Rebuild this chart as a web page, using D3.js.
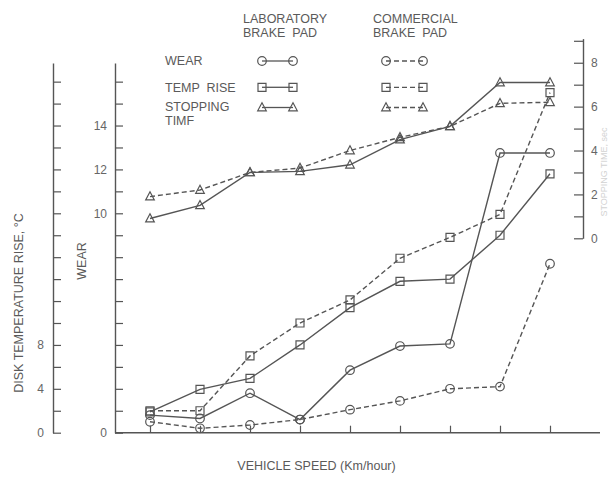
<!DOCTYPE html>
<html>
<head>
<meta charset="utf-8">
<script src="https://cdn.jsdelivr.net/npm/d3@7"></script>
<style>
  html, body { margin: 0; padding: 0; background: #fff; }
  svg { display: block; }
  text { font-family: "Liberation Sans", Arial, sans-serif; }
</style>
</head>
<body>
<script>
// Vehicle speed steps (unlabelled on the axis)
const speedSteps = [1, 2, 3, 4, 5, 6, 7, 8, 9];

// Wear
const wearLab = [0.8, 0.65, 1.8, 0.6, 2.85, 3.95, 4.05, 12.75, 12.75];
const wearCom = [0.5, 0.2, 0.35, 0.6, 1.05, 1.45, 2.0, 2.1, 7.7];

// Disk temperature rise, °C
const tempLab = [1.9, 3.95, 4.95, 8.0, 11.4, 13.8, 14.0, 18.0, 23.6];
const tempCom = [2.0, 2.0, 7.0, 10.0, 12.1, 15.9, 17.8, 19.9, 31.0];

// Stopping time
const stopLab = [0.9, 1.5, 3.0, 3.05, 3.35, 4.5, 5.1, 7.1, 7.1];
const stopCom = [1.9, 2.2, 3.0, 3.2, 4.0, 4.6, 5.1, 6.15, 6.2];

// Axis tick labels
const wearTickLabels = [0, 10, 12, 14];
const tempTickLabels = [0, 4, 8];
const stopTickLabels = [0, 2, 4, 6, 8];

const W = 608, H = 477;
const ink = "#555";
const textInk = "#5a5a5a";

const svg = d3.select("body").append("svg")
  .attr("width", W).attr("height", H);

const x = d3.scalePoint().domain(speedSteps).range([150, 550]);
const yWear = d3.scaleLinear().domain([0, 16.85]).range([432.7, 63]);
const yTemp = d3.scaleLinear().domain([0, 33.7]).range([432.7, 63]);
const yStop = d3.scaleLinear().domain([0, 9.1]).range([238.3, 38.6]);

function styleAxis(g, fontSize) {
  g.select(".domain").attr("stroke", ink).attr("stroke-width", 1.4);
  g.selectAll(".tick line").attr("stroke", ink).attr("stroke-width", 1.2);
  g.selectAll(".tick text").attr("fill", "#666")
    .style("font-size", fontSize + "px")
    .style("font-family", "'Liberation Sans', Arial, sans-serif");
}

// Disk temperature axis (far left)
const tempAxis = d3.axisLeft(yTemp)
  .tickValues(d3.range(0, 33, 2))
  .tickSizeInner(-8).tickSizeOuter(0).tickPadding(9)
  .tickFormat(d => tempTickLabels.includes(d) ? d : "");
svg.append("g").attr("transform", "translate(53,0)").call(tempAxis)
  .call(g => styleAxis(g, 12));

// Wear axis
const wearAxis = d3.axisLeft(yWear)
  .tickValues(d3.range(0, 17, 1))
  .tickSizeInner(-8).tickSizeOuter(0).tickPadding(8)
  .tickFormat(d => wearTickLabels.includes(d) ? d : "");
svg.append("g").attr("transform", "translate(115,0)").call(wearAxis)
  .call(g => styleAxis(g, 12));

// Stopping time axis (right)
const stopAxis = d3.axisRight(yStop)
  .tickValues(d3.range(0, 10, 1))
  .tickSizeInner(-9).tickSizeOuter(0).tickPadding(8)
  .tickFormat(d => stopTickLabels.includes(d) ? d : "");
svg.append("g").attr("transform", "translate(583,0)").call(stopAxis)
  .call(g => styleAxis(g, 12));

// Vehicle speed axis
const xAxis = d3.axisBottom(x).tickSizeInner(-7).tickSizeOuter(0).tickFormat("");
const xg = svg.append("g").attr("transform", "translate(0,432.7)").call(xAxis)
  .call(g => styleAxis(g, 12));
xg.select(".domain").attr("d", "M115,0H600");

// Axis titles
svg.append("text")
  .attr("transform", "translate(23,303) rotate(-90)")
  .attr("text-anchor", "middle").attr("fill", textInk)
  .style("font-size", "12.5px")
  .text("DISK TEMPERATURE RISE, °C");
svg.append("text")
  .attr("transform", "translate(86,261) rotate(-90)")
  .attr("text-anchor", "middle").attr("fill", textInk)
  .style("font-size", "12.5px")
  .text("WEAR");
svg.append("text")
  .attr("transform", "translate(607,172) rotate(-90)")
  .attr("text-anchor", "middle").attr("fill", "#d2d2d2")
  .style("font-size", "9px")
  .text("STOPPING TIME, sec");
svg.append("text")
  .attr("x", 316.5).attr("y", 470)
  .attr("text-anchor", "middle").attr("fill", textInk)
  .style("font-size", "12.5px")
  .text("VEHICLE SPEED (Km/hour)");

// Marker shapes
function drawMarker(g, shape, cx, cy) {
  const s = g.append(shape === "circle" ? "circle" : "path")
    .attr("fill", "none").attr("stroke", ink).attr("stroke-width", 1.2);
  if (shape === "circle") {
    s.attr("cx", cx).attr("cy", cy).attr("r", 4.3);
  } else if (shape === "square") {
    s.attr("d", `M${cx - 4},${cy - 4}h8v8h-8Z`);
  } else {
    s.attr("d", `M${cx},${cy - 4.8}L${cx + 4.3},${cy + 3.3}L${cx - 4.3},${cy + 3.3}Z`);
  }
}

const series = [
  { values: wearLab, y: yWear, shape: "circle", dashed: false },
  { values: wearCom, y: yWear, shape: "circle", dashed: true },
  { values: tempLab, y: yTemp, shape: "square", dashed: false },
  { values: tempCom, y: yTemp, shape: "square", dashed: true },
  { values: stopLab, y: yStop, shape: "triangle", dashed: false },
  { values: stopCom, y: yStop, shape: "triangle", dashed: true }
];

const lineGen = d3.line();
const plot = svg.append("g");
series.forEach(s => {
  const pts = speedSteps.map((sp, i) => [x(sp), s.y(s.values[i])]);
  plot.append("path")
    .attr("d", lineGen(pts))
    .attr("fill", "none").attr("stroke", ink)
    .attr("stroke-width", 1.4)
    .attr("stroke-dasharray", s.dashed ? "5,3" : null);
  const mg = plot.append("g");
  pts.forEach(p => drawMarker(mg, s.shape, p[0], p[1]));
});

// Legend
const legend = svg.append("g");
const headers = [
  { x: 243, lines: ["LABORATORY", "BRAKE  PAD"] },
  { x: 373, lines: ["COMMERCIAL", "BRAKE  PAD"] }
];
headers.forEach(h => {
  h.lines.forEach((t, i) => {
    legend.append("text")
      .attr("x", h.x).attr("y", 22.5 + i * 14.5)
      .attr("fill", textInk).style("font-size", "12.5px")
      .style("white-space", "pre")
      .text(t);
  });
});

const rows = [
  { label: ["WEAR"], y: 61, shape: "circle" },
  { label: ["TEMP  RISE"], y: 87.3, shape: "square" },
  { label: ["STOPPING", "TIMF"], y: 107.5, shape: "triangle" }
];
const labelBaselines = [[65], [91.5], [111, 124.5]];
rows.forEach((r, ri) => {
  r.label.forEach((t, i) => {
    legend.append("text")
      .attr("x", 165).attr("y", labelBaselines[ri][i])
      .attr("fill", textInk).style("font-size", "12.5px")
      .style("white-space", "pre")
      .text(t);
  });
  [[262, 293, false], [386, 423, true]].forEach(([x1, x2, dashed]) => {
    legend.append("line")
      .attr("x1", x1).attr("x2", x2).attr("y1", r.y).attr("y2", r.y)
      .attr("stroke", ink).attr("stroke-width", 1.3)
      .attr("stroke-dasharray", dashed ? "5,3" : null);
    drawMarker(legend, r.shape, x1, r.y);
    drawMarker(legend, r.shape, x2, r.y);
  });
});
</script>
</body>
</html>
